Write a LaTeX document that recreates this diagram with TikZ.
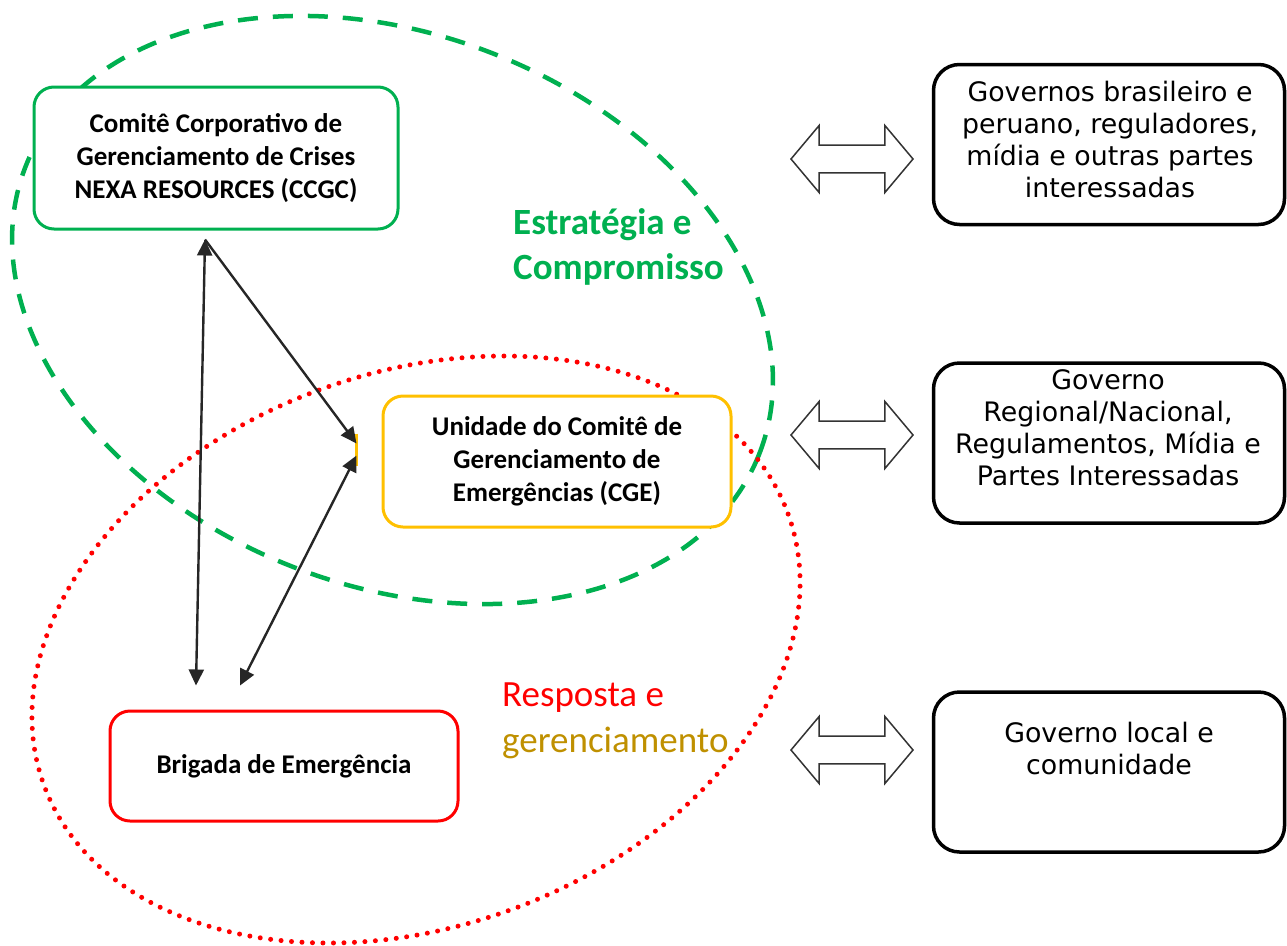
\documentclass[tikz,border=0pt]{standalone}
\usepackage{fontspec}
\setmainfont{Carlito}
\newfontfamily\verdfont{DejaVu Sans}
\usetikzlibrary{shapes.arrows,arrows.meta}
\definecolor{ccgcgreen}{HTML}{00B050}
\definecolor{cgeyellow}{HTML}{FFC000}
\definecolor{brigred}{HTML}{FF0000}
\definecolor{gerengold}{HTML}{BF9000}
\tikzset{
  unit/.style={
    % The shape:
    shape=rectangle,rounded corners=20pt,
    % The border:
    line width=3pt,
    % The filling:
    fill=white,
    % The text:
    font=\fontsize{27}{33}\selectfont\bfseries,align=center}}
\tikzset{
  govbox/.style={
    rectangle,rounded corners=26pt,minimum width=351pt,minimum height=160pt,
    line width=3.5pt,draw=black,fill=white}}
\tikzset{
  govtext/.style={font=\verdfont\fontsize{26.8}{32}\selectfont,align=center}}
\tikzset{
  swap/.style={
    double arrow,draw=black!80,line width=1.5pt,fill=white,
    minimum height=122pt,minimum width=67pt,inner xsep=0pt,inner ysep=13pt,
    double arrow head extend=19.5pt,double arrow tip angle=100}}
\tikzset{
  link/.style={line width=2.4pt,draw=black!85,
    arrows={-Triangle[length=16pt,width=15pt]}},
  bilink/.style={line width=2.4pt,draw=black!85,
    arrows={Triangle[length=16pt,width=15pt]-Triangle[length=16pt,width=15pt]}}}

\begin{document}
\begin{tikzpicture}[x=1pt,y=-1pt]
	\useasboundingbox (0,0) rectangle (1287,945);
	% The two circles
	\draw[ccgcgreen,line width=4.5pt,dash pattern=on 20pt off 15pt,
		rotate around={-21.4:(392.5,310)}] (392.5,310) ellipse [x radius=394, y radius=275.5];
	\draw[brigred,line width=5pt,line cap=round,dash pattern=on 0pt off 10.5pt,
		rotate around={20:(416,649.5)}] (416,649.5) ellipse [x radius=396, y radius=277];
	% Inner units
	\node[unit,draw=ccgcgreen,minimum width=364pt,minimum height=142pt] (ccgc) at (216,158)
		{Comitê Corporativo de\\Gerenciamento de Crises\\NEXA RESOURCES (CCGC)};
	\node[unit,draw=cgeyellow,minimum width=348pt,minimum height=131pt] (cge) at (557,461.5)
		{Unidade do Comitê de\\Gerenciamento de\\Emergências (CGE)};
	\node[unit,draw=brigred,minimum width=348pt,minimum height=110pt] (brig) at (284,766)
		{Brigada de Emergência};
	% Circle labels
	\node[anchor=west,align=left,inner sep=0pt,text=ccgcgreen,
		font=\fontsize{37}{45}\selectfont\bfseries] (strat) at (513,247) {Estratégia e\\Compromisso};
	\node[anchor=west,align=left,inner sep=0pt,
		font=\fontsize{37}{46}\selectfont] (resp) at (502,721)
		{\textcolor{brigred}{Resposta e}\\\textcolor{gerengold}{gerenciamento}};
	% Outer parties
	\node[govbox] (gov1) at (1109,144.5) {};
	\node[govtext] (gov1t) at (1110,140) {Governos brasileiro e\\peruano, reguladores,\\mídia e outras partes\\interessadas};
	\node[govbox] (gov2) at (1109,443) {};
	\node[govtext] (gov2t) at (1108,428) {Governo\\Regional/Nacional,\\Regulamentos, Mídia e\\Partes Interessadas};
	\node[govbox] (gov3) at (1109,772) {};
	\node[govtext] (gov3t) at (1109,748) {Governo local e\\comunidade};
	% Exchange arrows
	\node[swap] (sw1) at (852,159) {};
	\node[swap] (sw2) at (852,435) {};
	\node[swap] (sw3) at (852,750) {};
	% Ends of the links
	\coordinate (ccgcS) at ([xshift=-11pt,yshift=-9pt]ccgc.south);
	\coordinate (brigNa) at ([xshift=-88pt,yshift=24pt]brig.north);
	\coordinate (brigNb) at ([xshift=-44pt,yshift=24pt]brig.north);
	\coordinate (cgeWa) at ([xshift=-25pt,yshift=18pt]cge.west);
	\coordinate (cgeWb) at ([xshift=-25pt,yshift=6pt]cge.west);
	\coordinate (cgeTa) at ([xshift=-25pt,yshift=28pt]cge.west);
	\coordinate (cgeTb) at ([xshift=-25pt,yshift=-4pt]cge.west);
	\draw[cgeyellow,line width=3pt] (cgeTa) -- (cgeTb);
	% Lines out of ccgc
	\draw[bilink] (ccgcS) -- (brigNa);
	\draw[link] (ccgcS) -- (cgeWa);
	% Lines out of cge
	\draw[bilink] (cgeWb) -- (brigNb);
\end{tikzpicture}
\end{document}
